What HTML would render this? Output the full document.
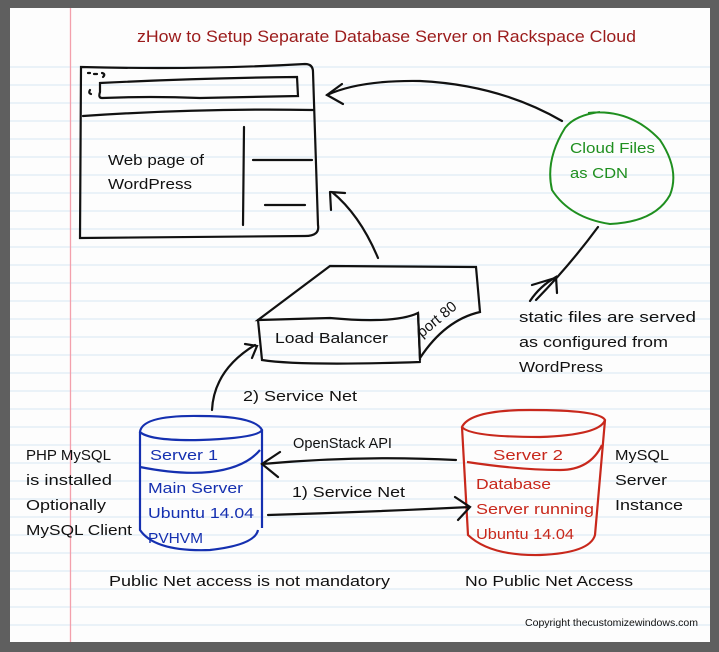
<!DOCTYPE html>
<html><head><meta charset="utf-8"><style>
html,body{margin:0;padding:0;background:#5a5a5a;}
svg{display:block}
text{font-family:"Liberation Sans",sans-serif;}
</style></head><body>
<svg width="719" height="652" viewBox="0 0 719 652" xmlns="http://www.w3.org/2000/svg" font-size="15">
<rect x="0" y="0" width="719" height="652" fill="#5f5f5f"/>
<rect x="10" y="8" width="700" height="634" fill="#fdfdfd"/>
<g stroke="#d6e7f4" stroke-width="1">
<line x1="10" y1="67" x2="710" y2="67"/><line x1="10" y1="85" x2="710" y2="85"/><line x1="10" y1="103" x2="710" y2="103"/><line x1="10" y1="121" x2="710" y2="121"/><line x1="10" y1="139" x2="710" y2="139"/><line x1="10" y1="157" x2="710" y2="157"/><line x1="10" y1="175" x2="710" y2="175"/><line x1="10" y1="193" x2="710" y2="193"/><line x1="10" y1="211" x2="710" y2="211"/><line x1="10" y1="229" x2="710" y2="229"/><line x1="10" y1="247" x2="710" y2="247"/><line x1="10" y1="265" x2="710" y2="265"/><line x1="10" y1="283" x2="710" y2="283"/><line x1="10" y1="301" x2="710" y2="301"/><line x1="10" y1="319" x2="710" y2="319"/><line x1="10" y1="337" x2="710" y2="337"/><line x1="10" y1="355" x2="710" y2="355"/><line x1="10" y1="373" x2="710" y2="373"/><line x1="10" y1="391" x2="710" y2="391"/><line x1="10" y1="409" x2="710" y2="409"/><line x1="10" y1="427" x2="710" y2="427"/><line x1="10" y1="445" x2="710" y2="445"/><line x1="10" y1="463" x2="710" y2="463"/><line x1="10" y1="481" x2="710" y2="481"/><line x1="10" y1="499" x2="710" y2="499"/><line x1="10" y1="517" x2="710" y2="517"/><line x1="10" y1="535" x2="710" y2="535"/><line x1="10" y1="553" x2="710" y2="553"/><line x1="10" y1="571" x2="710" y2="571"/><line x1="10" y1="589" x2="710" y2="589"/><line x1="10" y1="607" x2="710" y2="607"/><line x1="10" y1="625" x2="710" y2="625"/>
</g>
<line x1="70.5" y1="8" x2="70.5" y2="642" stroke="#f3a0ac" stroke-width="1.3"/>
<text x="137" y="42" fill="#9b1b1b" font-size="17" textLength="499" lengthAdjust="spacingAndGlyphs">zHow to Setup Separate Database Server on Rackspace Cloud</text>

<g fill="none" stroke="#111" stroke-width="2.2" stroke-linecap="round">
<path d="M81 67 Q200 70 305 64 Q313 64 313 72 L318 225 Q320 236 305 236 L80 238 Z"/>
<path d="M100 83 Q200 78 297 77 L298 96 Q250 97 200 98 Q150 96 102 98 Q98 98 100 92 Z"/>
<path d="M83 116 Q200 108 313 110"/>
<path d="M244 127 L243 225"/>
<path d="M253 160 L312 160 M265 205 L305 205"/>
<path d="M88 73 l2 0 M94 74 l3 0 M102 73 q4 1 1 4 M90 90 q-2 3 1 4"/>
<path d="M562 121 Q500 85 420 81 Q360 80 327 95"/>
<path d="M342 84 L327 95 L343 104"/>
<path d="M258 320 L330 266 L476 267 L480 312 Q445 320 420 358 L418 313 Q395 324 330 318 Z"/>
<path d="M258 320 L262 360 Q300 366 420 362 M418 313 L420 360"/>
<path d="M378 258 Q360 215 332 192 M330 192 L331 210 M330 192 L345 193"/>
<path d="M212 410 Q214 370 255 345 M245 344 L257 346 L252 358"/>
<path d="M598 227 Q570 265 536 300 M530 301 Q540 286 556 277 L557 293 M532 285 Q542 282 555 278"/>
</g>
<path d="M588 113 Q630 108 660 140 Q680 170 670 195 Q655 222 610 224 Q570 218 552 190 Q545 160 565 128 Q575 115 600 112" fill="none" stroke="#1f8f1f" stroke-width="2"/>
<text x="570" y="153" fill="#1f8f1f" textLength="85" lengthAdjust="spacingAndGlyphs">Cloud Files</text>
<text x="570" y="178" fill="#1f8f1f" textLength="58" lengthAdjust="spacingAndGlyphs">as CDN</text>
<text x="275" y="343" fill="#111" textLength="113" lengthAdjust="spacingAndGlyphs">Load Balancer</text>
<text x="0" y="0" fill="#111" transform="translate(422 338) rotate(-40)">port 80</text>
<text x="519" y="322" fill="#111" textLength="177" lengthAdjust="spacingAndGlyphs">static files are served</text>
<text x="519" y="347" fill="#111" textLength="149" lengthAdjust="spacingAndGlyphs">as configured from</text>
<text x="519" y="372" fill="#111" textLength="84" lengthAdjust="spacingAndGlyphs">WordPress</text>
<text x="108" y="165" fill="#111" textLength="96" lengthAdjust="spacingAndGlyphs">Web page of</text>
<text x="108" y="189" fill="#111" textLength="84" lengthAdjust="spacingAndGlyphs">WordPress</text>
<text x="243" y="401" fill="#111" textLength="114" lengthAdjust="spacingAndGlyphs">2) Service Net</text>

<g fill="none" stroke="#1530b0" stroke-width="2.2">
<path d="M140 432 Q142 415 200 416 Q255 416 262 430 Q258 438 200 440 Q150 441 140 432 Z"/>
<path d="M140 432 L140 530 Q155 552 210 550 Q255 545 258 530 M262 430 L262 528"/>
<path d="M140 467 Q180 475 210 472 Q245 468 260 450"/>
</g>
<text x="150" y="460" fill="#1530b0" textLength="68" lengthAdjust="spacingAndGlyphs">Server 1</text>
<text x="148" y="493" fill="#1530b0" textLength="95" lengthAdjust="spacingAndGlyphs">Main Server</text>
<text x="148" y="518" fill="#1530b0" textLength="106" lengthAdjust="spacingAndGlyphs">Ubuntu 14.04</text>
<text x="148" y="543" fill="#1530b0" textLength="55" lengthAdjust="spacingAndGlyphs">PVHVM</text>
<g fill="none" stroke="#c8281c" stroke-width="2.2">
<path d="M462 427 Q470 410 530 410 Q600 410 605 420 Q600 435 540 437 Q470 437 462 427 Z"/>
<path d="M462 427 L468 535 Q490 556 540 555 Q590 553 595 535 L605 420"/>
<path d="M467 462 Q520 470 560 470 Q590 470 602 445"/>
</g>
<text x="493" y="460" fill="#c8281c" textLength="70" lengthAdjust="spacingAndGlyphs">Server 2</text>
<text x="476" y="489" fill="#c8281c" textLength="75" lengthAdjust="spacingAndGlyphs">Database</text>
<text x="476" y="514" fill="#c8281c" textLength="118" lengthAdjust="spacingAndGlyphs">Server running</text>
<text x="476" y="539" fill="#c8281c" textLength="98" lengthAdjust="spacingAndGlyphs">Ubuntu 14.04</text>
<g fill="none" stroke="#111" stroke-width="2.2" stroke-linecap="round">
<path d="M456 460 Q360 455 262 464 M280 452 L262 464 L278 477"/>
<path d="M268 515 Q370 512 470 507 M455 497 L470 507 L458 520"/>
</g>
<text x="293" y="448" fill="#111" textLength="99" lengthAdjust="spacingAndGlyphs">OpenStack API</text>
<text x="292" y="497" fill="#111" textLength="113" lengthAdjust="spacingAndGlyphs">1) Service Net</text>
<text x="26" y="460" fill="#111" textLength="85" lengthAdjust="spacingAndGlyphs">PHP MySQL</text>
<text x="26" y="485" fill="#111" textLength="86" lengthAdjust="spacingAndGlyphs">is installed</text>
<text x="26" y="510" fill="#111" textLength="80" lengthAdjust="spacingAndGlyphs">Optionally</text>
<text x="26" y="535" fill="#111" textLength="106" lengthAdjust="spacingAndGlyphs">MySQL Client</text>
<text x="615" y="460" fill="#111" textLength="54" lengthAdjust="spacingAndGlyphs">MySQL</text>
<text x="615" y="485" fill="#111" textLength="52" lengthAdjust="spacingAndGlyphs">Server</text>
<text x="615" y="510" fill="#111" textLength="68" lengthAdjust="spacingAndGlyphs">Instance</text>
<text x="109" y="586" fill="#111" textLength="281" lengthAdjust="spacingAndGlyphs">Public Net access is not mandatory</text>
<text x="465" y="586" fill="#111" textLength="168" lengthAdjust="spacingAndGlyphs">No Public Net Access</text>
<text x="525" y="626" fill="#111" font-size="10" textLength="173" lengthAdjust="spacingAndGlyphs">Copyright thecustomizewindows.com</text>
</svg>
</body></html>
